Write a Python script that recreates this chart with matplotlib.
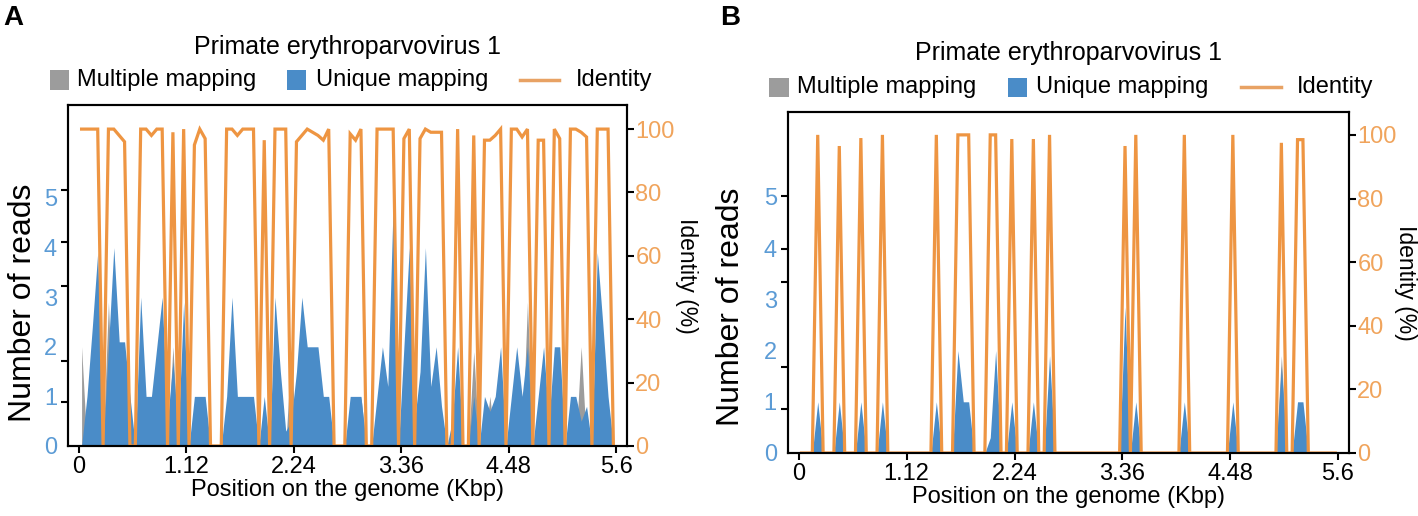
import numpy as np
import matplotlib.pyplot as plt
from matplotlib.patches import Rectangle
from matplotlib.lines import Line2D

plt.rcParams['font.family'] = ['Liberation Sans', 'DejaVu Sans']

# genome cut in 100 bins of 56 bp, values read at the bin centres (Kbp)
bin_kbp = (np.arange(100) + 0.5) * 0.056

xtick_vals = [0, 1.12, 2.24, 3.36, 4.48, 5.6]
xtick_labels = ['0', '1.12', '2.24', '3.36', '4.48', '5.6']
read_ticks = [0, 1, 2, 3, 4, 5]
ident_ticks = [0, 20, 40, 60, 80, 100]
legend_names = ['Multiple mapping', 'Unique mapping', 'Identity']

# panel A
ident_a = [
    100, 100, 100, 100, 0, 100, 100, 98, 96, 0,
    0, 100, 100, 98, 100, 100, 0, 99, 0, 100,
    0, 95, 100, 97, 0, 0, 0, 100, 100, 98,
    100, 100, 100, 0, 96.5, 0, 100, 100, 100, 0,
    96, 98, 100, 99, 98, 96.5, 100, 0, 0, 0,
    98.5, 96.5, 100, 0, 0, 100, 100, 100, 100, 0,
    97, 100, 0, 97, 100, 99, 99, 99, 0, 0,
    100, 0, 0, 98, 0, 96.5, 96.5, 98, 100, 0,
    100, 100, 97.5, 100, 0, 96.5, 96.5, 0, 100, 97,
    0, 100, 100, 99, 97.5, 0, 100, 100, 100, 0]
uniq_a = [
    0, 1.0, 2.4, 3.9, 0, 2.0, 4.0, 2.1, 2.1, 1.0,
    0, 3.0, 1.0, 1.0, 2.0, 3.0, 0.5, 1.7, 0.3, 2.9,
    0, 1.0, 1.0, 1.0, 0, 0, 0, 1.0, 3.0, 1.0,
    1.0, 1.0, 1.0, 0, 1.0, 0, 3.0, 1.5, 0.3, 0.5,
    1.5, 3.0, 2.0, 2.0, 2.0, 1.0, 1.0, 0, 0, 0,
    1.0, 1.0, 1.0, 0, 0, 1.0, 2.0, 1.2, 4.9, 0,
    2.0, 4.0, 0.5, 1.5, 4.0, 1.2, 2.0, 0.8, 0, 0.5,
    2.0, 0, 0, 1.0, 0, 1.0, 0.7, 1.0, 2.0, 0,
    1.0, 2.0, 1.0, 2.0, 0, 1.0, 2.0, 0.5, 2.0, 2.0,
    0, 1.0, 1.0, 0.5, 0.8, 0, 3.9, 2.5, 1.0, 0]
multi_a = [
    2.0, 0, 0, 0, 0, 2.9, 0, 0, 0, 0,
    0, 0, 0, 0, 0, 0, 0, 2.0, 0, 0,
    0, 0, 0, 0, 0, 0, 0, 0, 0, 0,
    0, 0, 0, 0, 0, 0, 0, 0, 0, 1.9,
    0, 0, 0, 0, 0, 0, 0, 0, 0, 0,
    0, 0, 1.0, 0, 0, 0, 0, 0, 0, 0,
    0, 0, 0, 0, 0, 0, 0, 0, 0, 0,
    0, 0, 0, 1.9, 0, 0, 1.0, 0, 0, 0,
    0, 0, 0, 2.9, 0, 0, 0, 0, 0, 0,
    0, 0, 0, 2.0, 0, 0, 0, 0, 0, 0]

# panel B
ident_b = [
    0, 0, 0, 100, 0, 0, 0, 96.5, 0, 0,
    0, 99, 0, 0, 0, 100, 0, 0, 0, 0,
    0, 0, 0, 0, 0, 100, 0, 0, 0, 100,
    100, 100, 0, 0, 0, 100, 100, 0, 0, 98.7,
    0, 0, 0, 98.7, 0, 0, 100, 0, 0, 0,
    0, 0, 0, 0, 0, 0, 0, 0, 0, 0,
    96.5, 0, 100, 0, 0, 0, 0, 0, 0, 0,
    0, 100, 0, 0, 0, 0, 0, 0, 0, 0,
    100, 0, 0, 0, 0, 0, 0, 0, 0, 97.5,
    0, 0, 98.5, 98.5, 0, 0, 0, 0, 0, 0]
uniq_b = [
    0, 0, 0, 1.0, 0, 0, 0, 1.0, 0, 0,
    0, 1.0, 0, 0, 0, 1.0, 0, 0, 0, 0,
    0, 0, 0, 0, 0, 1.0, 0, 0, 0, 2.0,
    1.0, 1.0, 0, 0, 0, 0.3, 2.0, 0, 0, 1.0,
    0, 0, 0, 1.0, 0, 0, 1.9, 0, 0, 0,
    0, 0, 0, 0, 0, 0, 0, 0, 0, 0,
    2.85, 0, 1.0, 0, 0, 0, 0, 0, 0, 0,
    0, 1.0, 0, 0, 0, 0, 0, 0, 0, 0,
    1.0, 0, 0, 0, 0, 0, 0, 0, 0, 1.7,
    0, 0, 1.0, 1.0, 0, 0, 0, 0, 0, 0]
multi_b = [0] * 89 + [1.9] + [0] * 10

GREY = '#9c9c9c'
BLUE = '#4a8cc8'
ORANGE = '#ee9542'
BLUE_TXT = '#5b9bd5'
ORANGE_TXT = '#f0a45c'

fig = plt.figure(figsize=(14.18, 5.16), dpi=100)


def legend_row(ax, y):
    # hand placed legend row above the plot (axes fraction)
    tr = ax.transAxes
    w, h = 0.034, 0.057
    for x0, col in ((-0.033, GREY), (0.392, BLUE)):
        ax.add_patch(Rectangle((x0, y - h / 2), w, h, transform=tr, color=col, lw=0, clip_on=False))
    ax.add_line(Line2D([0.808, 0.878], [y, y], transform=tr, color='#e8a264', lw=2.5, clip_on=False))
    for x0, name in zip((0.016, 0.443, 0.908), legend_names):
        ax.text(x0, y, name, transform=tr, ha='left', va='center', fontsize=17)


def panel(rect, uniq, multi, ident, ymax_reads, ymax_id, tick_marks, letter, letter_x,
          title_y, legend_y, ylab_x, ylab_y, idlab_x):
    ax = fig.add_axes(rect)
    ax.fill_between(bin_kbp, 0, multi, color=GREY, lw=0)
    ax.fill_between(bin_kbp, 0, uniq, color=BLUE, lw=0)
    ax.set_xlim(-0.113, 5.714)
    ax.set_ylim(0, ymax_reads)
    ax.set_xticks(xtick_vals)
    ax.set_xticklabels(xtick_labels)
    ax.set_yticks(read_ticks)
    # the tick marks of the original do not sit at the labels
    ax.set_yticks(tick_marks, minor=True)
    ax.tick_params(axis='y', which='major', length=0, pad=8, labelcolor=BLUE_TXT, labelsize=17)
    ax.tick_params(axis='y', which='minor', length=5, width=1.5)
    ax.tick_params(axis='x', length=5, width=1.5, pad=2, labelsize=17)
    ax.set_xlabel('Position on the genome (Kbp)', fontsize=17, labelpad=1)
    ax.set_ylabel('Number of reads', fontsize=23)
    ax.yaxis.set_label_coords(ylab_x, ylab_y)
    ax.yaxis.label.set_va('center')

    ax2 = ax.twinx()
    ax2.plot(bin_kbp, ident, color=ORANGE, lw=2.3, solid_joinstyle='miter')
    ax2.set_ylim(0, ymax_id)
    ax2.set_yticks(ident_ticks)
    ax2.tick_params(axis='y', length=5, width=1.5, pad=1, labelcolor=ORANGE_TXT, labelsize=17)
    ax2.set_ylabel('Identity (%)', fontsize=16.5, rotation=270)
    ax2.yaxis.set_label_coords(idlab_x, 0.5)
    ax2.yaxis.label.set_va('center')
    for a in (ax, ax2):
        for s in a.spines.values():
            s.set_linewidth(1.5)

    legend_row(ax2, legend_y)
    ax.text(0.5, title_y, 'Primate erythroparvovirus 1', transform=ax.transAxes,
            ha='center', va='center', fontsize=18)
    fig.text(letter_x, 0.966, letter, fontsize=20, fontweight='bold', ha='left', va='center')


panel([0.048, 0.1357, 0.3942, 0.6608], uniq_a, multi_a, ident_a, 6.875, 107.6,
      [0, 0.89, 1.72, 3.23, 4.12, 5.16], 'A', 0.002, 1.169, 1.073, -0.08, 0.42, 1.106)
panel([0.5557, 0.1221, 0.3956, 0.6609], uniq_b, multi_b, ident_b, 6.66, 107.2,
      [0, 0.86, 1.68, 3.33, 3.99, 5.01], 'B', 0.508, 1.172, 1.072, -0.102, 0.43, 1.101)

fig.savefig('out.png', dpi=100)
